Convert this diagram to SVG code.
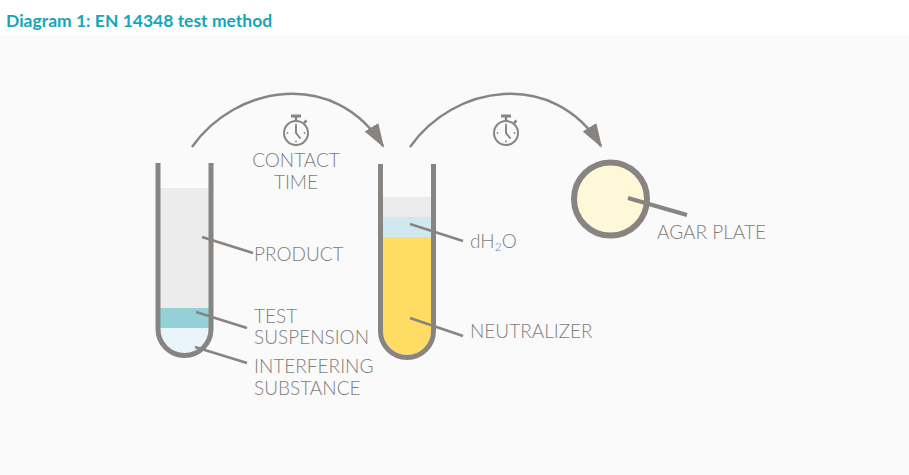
<svg xmlns="http://www.w3.org/2000/svg" width="909" height="475" viewBox="0 0 909 475">
<defs>
<style>
.lbl{font-family:Lato,"Liberation Sans",sans-serif;font-weight:300;font-size:19px;fill:#7e7c7a}
.title{font-family:Lato,"Liberation Sans",sans-serif;font-weight:700;font-size:17.5px;fill:#14a6b8}
.wall{fill:none;stroke:#878482;stroke-width:5}
.lead{stroke:#878482;stroke-width:2.5;fill:none}
.arc{fill:none;stroke:#878482;stroke-width:2.5}
.sw{fill:none;stroke:#878482;stroke-width:2}
</style>
<marker id="ah" markerUnits="userSpaceOnUse" markerWidth="24" markerHeight="16" viewBox="0 0 24 16" refX="22" refY="8" orient="auto">
<path d="M0,0 L24,8 L0,16 Z" fill="#878482"/>
</marker>
<g id="stopwatch">
<circle cx="0" cy="0" r="12" class="sw"/>
<rect x="-5" y="-18.5" width="10" height="3" fill="#878482"/>
<rect x="-1.2" y="-16" width="2.4" height="4" fill="#878482"/>
<path d="M8,-10 L10.5,-12.5" stroke="#878482" stroke-width="2.5"/>
<path d="M0,-7 L0,0 L4,5" class="sw" stroke-width="1.6" stroke-linecap="round" stroke-linejoin="round"/>
<circle cx="0" cy="-8.5" r="0.9" fill="#878482"/>
<circle cx="8.5" cy="0" r="0.9" fill="#878482"/>
<circle cx="0" cy="8.5" r="0.9" fill="#878482"/>
<circle cx="-8.5" cy="0" r="0.9" fill="#878482"/>
</g>
</defs>
<rect x="0" y="0" width="909" height="475" fill="#fafafa"/>
<rect x="0" y="0" width="909" height="35" fill="#ffffff"/>
<text class="title" x="6" y="27">Diagram 1: EN 14348 test method</text>

<g id="tube1">
<rect x="160" y="188" width="49" height="120" fill="#ececec"/>
<rect x="160" y="308" width="49" height="20" fill="#94d0d8"/>
<path d="M160,328 L209,328 L209,329 A24.5,24.5 0 0 1 160,329 Z" fill="#eaf5fb"/>
<path d="M158,163 L158,329 A26.5,26.5 0 0 0 211,329 L211,163" class="wall"/>
</g>

<g id="tube2">
<rect x="383" y="197" width="48" height="20" fill="#ececec"/>
<rect x="383" y="217" width="48" height="20" fill="#cfe8ef"/>
<path d="M383,237 L431,237 L431,331 A24,24 0 0 1 383,331 Z" fill="#ffdc63"/>
<path d="M380.5,164 L380.5,331 A26.5,26.5 0 0 0 433.5,331 L433.5,164" class="wall"/>
</g>

<g id="agar-plate">
<circle cx="610.5" cy="199" r="36.5" fill="#fff8d8" stroke="#878482" stroke-width="6"/>
</g>

<g id="timer1"><use href="#stopwatch" x="296" y="133"/></g>
<g id="timer2"><use href="#stopwatch" x="506" y="133"/></g>

<g id="connectors">
<path class="arc" d="M192,147 C235,85 335,68 383,146" marker-end="url(#ah)"/>
<path class="arc" d="M410,147 C453,85 553,68 601,146" marker-end="url(#ah)"/>
<line class="lead" x1="202" y1="237" x2="253" y2="253"/>
<line class="lead" x1="196" y1="312" x2="247" y2="328"/>
<line class="lead" x1="195" y1="347" x2="247" y2="363"/>
<line class="lead" x1="410" y1="224" x2="463" y2="241"/>
<line class="lead" x1="410" y1="318" x2="463" y2="336"/>
<line x1="628" y1="198" x2="687" y2="215" stroke="#878482" stroke-width="4"/>
</g>

<g id="labels">
<text class="lbl" x="296" y="167" text-anchor="middle">CONTACT</text>
<text class="lbl" x="296" y="189" text-anchor="middle">TIME</text>
<text class="lbl" x="254" y="261">PRODUCT</text>
<text class="lbl" x="254" y="323">TEST</text>
<text class="lbl" x="254" y="344">SUSPENSION</text>
<text class="lbl" x="254" y="373">INTERFERING</text>
<text class="lbl" x="254" y="395">SUBSTANCE</text>
<text class="lbl" x="470" y="248">dH<tspan font-size="12" dy="3">2</tspan><tspan dy="-3">O</tspan></text>
<text class="lbl" x="470" y="338">NEUTRALIZER</text>
<text class="lbl" x="657" y="239">AGAR PLATE</text>
</g>
</svg>
